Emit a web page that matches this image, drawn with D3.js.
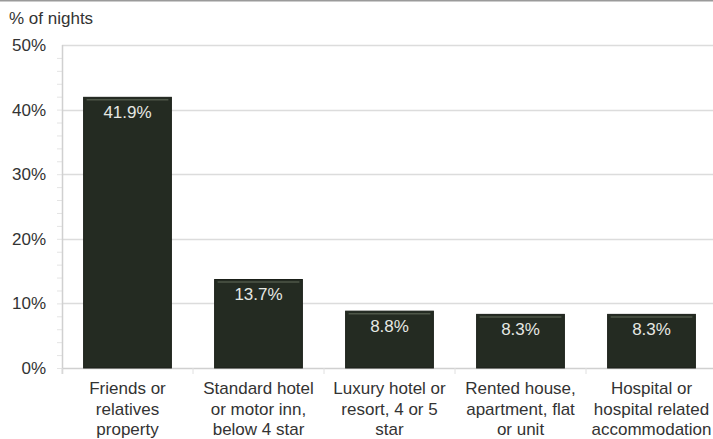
<!DOCTYPE html>
<html>
<head>
<meta charset="utf-8">
<script src="https://cdn.jsdelivr.net/npm/d3@7"></script>
<style>
  html, body { margin: 0; padding: 0; background: #fff; }
  svg { display: block; font-family: Arial, "Liberation Sans", sans-serif; }
</style>
</head>
<body>
<svg id="chart" width="713" height="439"></svg>
<script>
// Share of nights by accommodation type
const categories = [
  ["Friends or", "relatives", "property"],
  ["Standard hotel", "or motor inn,", "below 4 star"],
  ["Luxury hotel or", "resort, 4 or 5", "star"],
  ["Rented house,", "apartment, flat", "or unit"],
  ["Hospital or", "hospital related", "accommodation"]
];
const values = [41.9, 13.7, 8.8, 8.3, 8.3];
const yTicks = [0, 10, 20, 30, 40, 50];
const yMinorTicks = d3.range(0, 50, 2);
const axisTitle = "% of nights";

const svg = d3.select("#chart");
const W = 713, H = 439;
const m = { left: 62, right: -4, top: 45, bottom: 71 };

const x = d3.scaleBand()
  .domain(d3.range(categories.length))
  .range([m.left, W - m.right])
  .paddingInner(0.33)
  .paddingOuter(0.165);

const y = d3.scaleLinear().domain([0, 50]).range([H - m.bottom, m.top]);

// top frame line
svg.append("line").attr("x1", 0).attr("x2", W).attr("y1", 0.5).attr("y2", 0.5)
  .attr("stroke", "#9a9a9a").attr("stroke-width", 2);

// horizontal gridlines
svg.append("g").selectAll("line").data(yTicks.filter(d => d > 0)).join("line")
  .attr("x1", m.left).attr("x2", W)
  .attr("y1", d => Math.round(y(d)) + 0.5).attr("y2", d => Math.round(y(d)) + 0.5)
  .attr("stroke", "#dcdcdc").attr("stroke-width", 1.5);

// y axis with minor ticks
const yAxis = svg.append("g").attr("transform", `translate(${m.left},0)`);
yAxis.call(d3.axisLeft(y).tickValues(yMinorTicks).tickSize(5).tickFormat(""))
  .call(g => g.select(".domain").remove())
  .call(g => g.selectAll(".tick line").attr("stroke", "#e4e4e4"));
yAxis.append("line").attr("x1", 0.5).attr("x2", 0.5).attr("y1", y(50)).attr("y2", y(0) + 6)
  .attr("stroke", "#d0d0d0").attr("stroke-width", 1.5);

// y tick labels
svg.append("g").selectAll("text").data(yTicks).join("text")
  .attr("x", 46).attr("y", d => y(d) + 6)
  .attr("text-anchor", "end")
  .attr("font-size", 17).attr("fill", "#333")
  .text(d => d + "%");

// axis title
svg.append("text").attr("x", 9).attr("y", 24)
  .attr("font-size", 17).attr("fill", "#333").text(axisTitle);

// x axis baseline and category separators
const xAxis = svg.append("g").attr("transform", `translate(0,${y(0)})`);
xAxis.append("line").attr("x1", m.left).attr("x2", W).attr("y1", 0.5).attr("y2", 0.5)
  .attr("stroke", "#d0d0d0").attr("stroke-width", 1.5);
const step = x.step();
const bandStart = x(0) - x.paddingOuter() * step;
xAxis.selectAll("line.sep").data(d3.range(categories.length + 1)).join("line")
  .attr("class", "sep")
  .attr("x1", i => bandStart + i * step)
  .attr("x2", i => bandStart + i * step)
  .attr("y1", 0).attr("y2", 6)
  .attr("stroke", "#e0e0e0");

// bars
const bars = svg.append("g").selectAll("g").data(values).join("g");
bars.append("rect")
  .attr("x", (d, i) => x(i)).attr("width", x.bandwidth())
  .attr("y", d => y(d)).attr("height", d => y(0) - y(d))
  .attr("fill", "#242b22").attr("stroke", "#1a1f18").attr("stroke-width", 1);
bars.append("line")
  .attr("x1", (d, i) => x(i) + 3).attr("x2", (d, i) => x(i) + x.bandwidth() - 3)
  .attr("y1", d => y(d) + 2.5).attr("y2", d => y(d) + 2.5)
  .attr("stroke", "#4e5749").attr("stroke-width", 1.5);

// value labels
bars.append("text")
  .attr("x", (d, i) => x(i) + x.bandwidth() / 2)
  .attr("y", d => y(d) + 21)
  .attr("text-anchor", "middle")
  .attr("font-size", 17).attr("fill", "#e6e8e4")
  .text(d => d.toFixed(1) + "%");

// category labels
const cat = svg.append("g").selectAll("text").data(categories).join("text")
  .attr("text-anchor", "middle")
  .attr("font-size", 17).attr("fill", "#333")
  .attr("transform", (d, i) => `translate(${x(i) + x.bandwidth() / 2},${y(0) + 26})`);
cat.selectAll("tspan").data(d => d).join("tspan")
  .attr("x", 0).attr("dy", (d, j) => j === 0 ? 0 : 20.5)
  .text(d => d);
</script>
</body>
</html>
